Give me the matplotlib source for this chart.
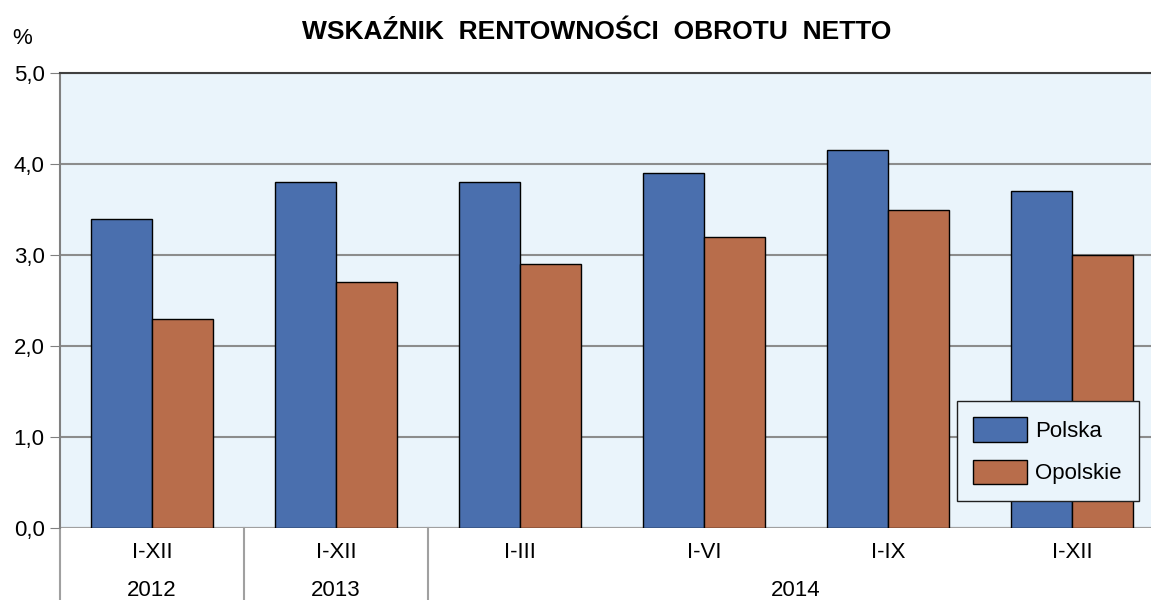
import matplotlib
matplotlib.use('Agg')
import matplotlib.pyplot as plt
import numpy as np

okresy = ['I-XII', 'I-XII', 'I-III', 'I-VI', 'I-IX', 'I-XII']
lata = ['2012', '2013', '2014']
lata_zakres = [(0, 0), (1, 1), (2, 5)]
polska = [3.4, 3.8, 3.8, 3.9, 4.15, 3.7]
opolskie = [2.3, 2.7, 2.9, 3.2, 3.5, 3.0]

plt.rcParams['font.family'] = ['Liberation Sans', 'DejaVu Sans']

fig = plt.figure(figsize=(11.51, 6), dpi=100)
ax = fig.add_axes([60 / 1151, 72 / 600, 1104 / 1151, 455 / 600])
ax.set_facecolor('#EAF4FB')

x = np.arange(len(okresy))
w = 0.333
ax.bar(x - w / 2, polska, w, color='#4A6FAE', edgecolor='black', linewidth=1, label='Polska', zorder=3)
ax.bar(x + w / 2, opolskie, w, color='#B86D4B', edgecolor='black', linewidth=1, label='Opolskie', zorder=3)

ax.set_xlim(-0.5, len(okresy) - 0.5)
ax.set_ylim(0, 5)
ax.set_yticks(np.arange(0, 5.1, 1))
ax.set_yticklabels([f'{v:.1f}'.replace('.', ',') for v in np.arange(0, 5.1, 1)], fontsize=16)
ax.tick_params(axis='y', length=7, color='#808080', pad=4)
ax.set_xticks([])
ax.grid(axis='y', color='#8C8C8C', linewidth=1.5, zorder=1)

for s in ['right', 'bottom']:
    ax.spines[s].set_visible(False)
ax.spines['top'].set_color('#404040')
ax.spines['top'].set_linewidth(1.5)
ax.spines['left'].set_color('#808080')
ax.spines['left'].set_linewidth(1.5)
ax.axhline(0, color='#A0A0A0', linewidth=1.5, zorder=2)

# etykiety osi kategorii w dwoch wierszach
tr = ax.get_xaxis_transform()
for i, o in enumerate(okresy):
    ax.text(i, -0.053, o, transform=tr, ha='center', va='center', fontsize=16)
for rok, (a, b) in zip(lata, lata_zakres):
    ax.text((a + b) / 2, -0.137, rok, transform=tr, ha='center', va='center', fontsize=16)
for xs in [-0.5, 0.5, 1.5]:
    ax.plot([xs, xs], [0, -0.16], transform=tr, color='#A0A0A0', linewidth=1.5, clip_on=False)

leg = ax.legend(loc='lower right', bbox_to_anchor=(0.977, 0.0593), fontsize=16, frameon=True,
                fancybox=False, handlelength=2.4, handleheight=1.3, labelspacing=0.8,
                borderpad=0.75, handletextpad=0.4, borderaxespad=0)
leg.get_frame().set_edgecolor('#202020')
leg.get_frame().set_facecolor('#EAF4FB')
leg.get_frame().set_linewidth(1)
leg.get_frame().set_alpha(1)

fig.text(597 / 1151, 1 - 32 / 600, 'WSKAŹNIK  RENTOWNOŚCI  OBROTU  NETTO', ha='center', va='center',
         fontsize=19, fontweight='bold')
fig.text(12 / 1151, 1 - 38 / 600, '%', ha='left', va='center', fontsize=16)

fig.savefig('out.png', dpi=100)
